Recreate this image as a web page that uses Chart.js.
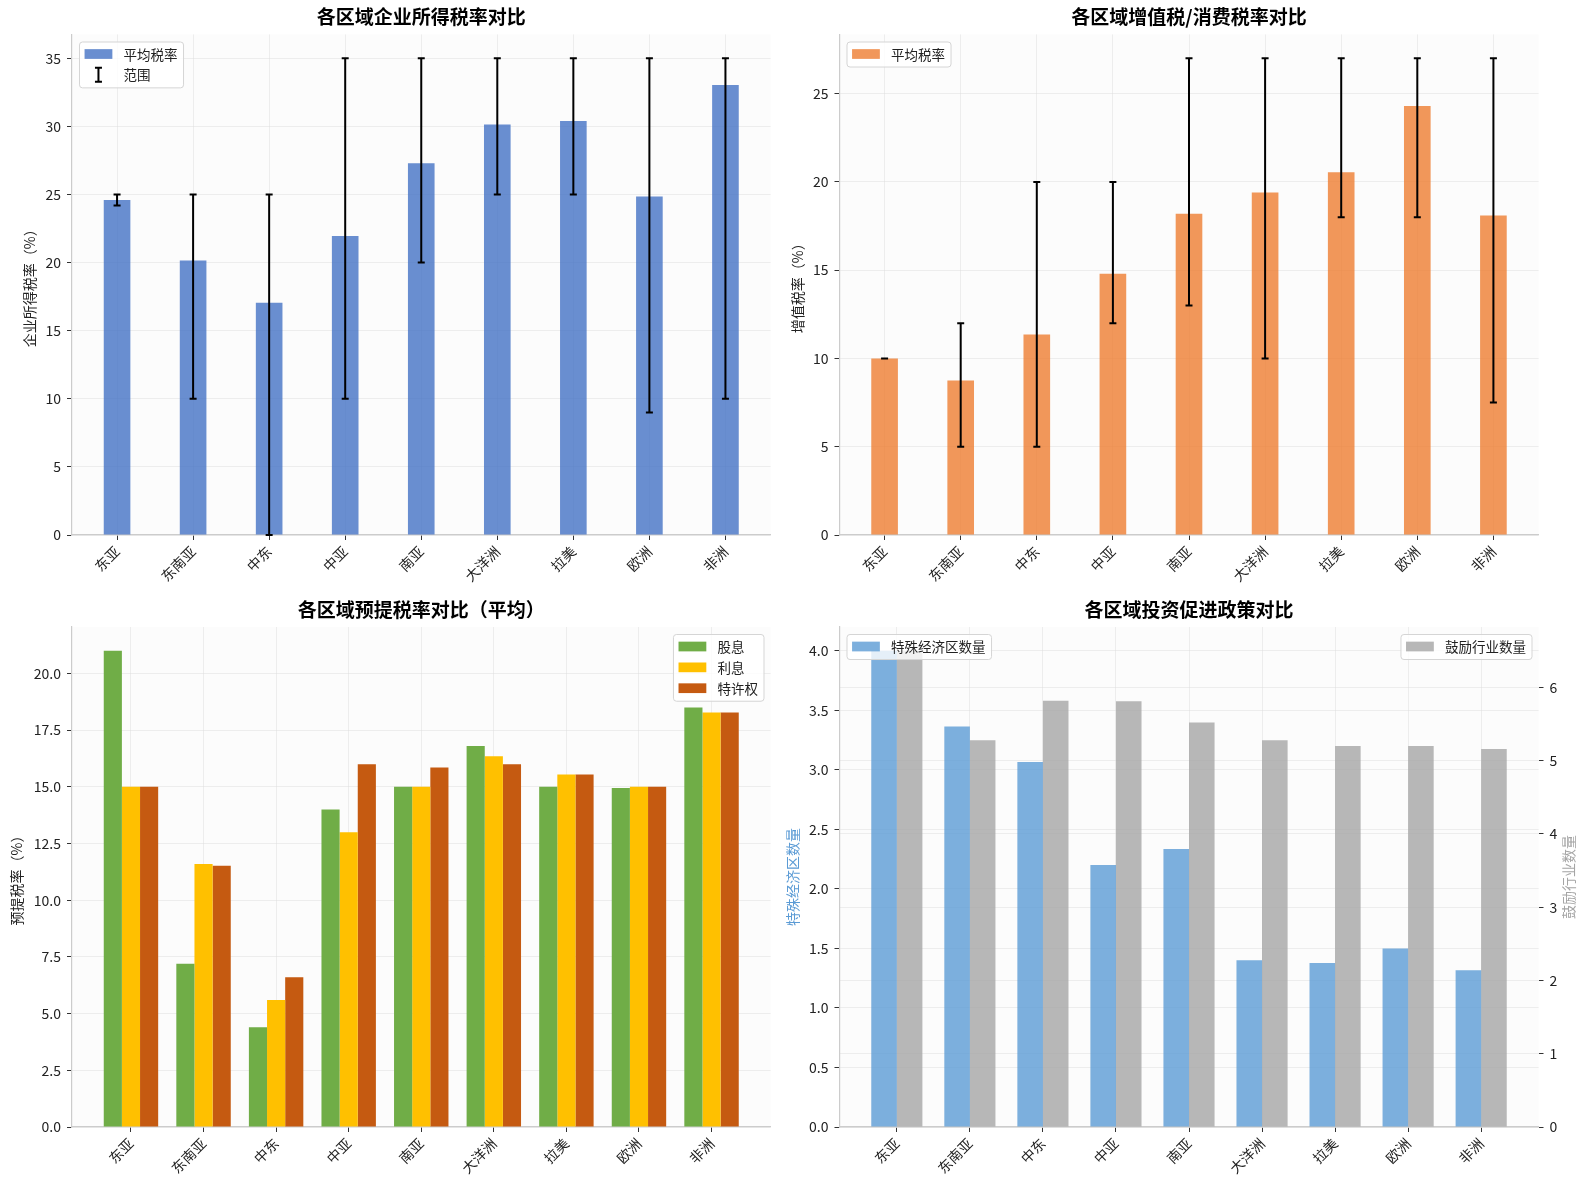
<!DOCTYPE html>
<html>
<head>
<meta charset="utf-8">
<script src="https://cdn.jsdelivr.net/npm/chart.js@4.4.1/dist/chart.umd.min.js"></script>
<style>
body{margin:0;background:#fff;width:1587px;height:1186px;position:relative;overflow:hidden;}
canvas{position:absolute;}
</style>
</head>
<body>
<canvas id="g1" width="780" height="593" style="left:0;top:0;"></canvas>
<canvas id="g2" width="807" height="593" style="left:780px;top:0;"></canvas>
<canvas id="g3" width="780" height="593" style="left:0;top:593px;"></canvas>
<canvas id="g4" width="807" height="593" style="left:780px;top:593px;"></canvas>
<script>
// regiones
const regiones = ['东亚','东南亚','中东','中亚','南亚','大洋洲','拉美','欧洲','非洲'];

//企业所得税
const citMedia = [24.6, 20.15, 17.05, 21.95, 27.3, 30.15, 30.4, 24.85, 33.05];
const citMin   = [24.2, 10, 0, 10, 20, 25, 25, 9, 10];
const citMax   = [25, 25, 25, 35, 35, 35, 35, 35, 35];

// 增值税
const ivaMedia = [10, 8.75, 11.35, 14.8, 18.2, 19.4, 20.55, 24.3, 18.1];
const ivaMin   = [10, 5, 5, 12, 13, 10, 18, 18, 7.5];
const ivaMax   = [10, 12, 20, 20, 27, 27, 27, 27, 27];

// 预提税
const dividendos = [21.0, 7.2, 4.4, 14.0, 15.0, 16.8, 15.0, 14.95, 18.5];
const intereses  = [15.0, 11.6, 5.6, 13.0, 15.0, 16.35, 15.55, 15.0, 18.28];
const regalias   = [15.0, 11.52, 6.6, 16.0, 15.85, 16.0, 15.55, 15.0, 18.28];

// 投资促进
const zonasEspeciales = [4.0, 3.365, 3.065, 2.2, 2.335, 1.4, 1.377, 1.5, 1.316];
const industrias      = [6.5, 5.28, 5.82, 5.81, 5.52, 5.28, 5.2, 5.2, 5.16];

const fuente = '"Noto Sans CJK SC", "DejaVu Sans", sans-serif';
Chart.defaults.font.family = fuente;
Chart.defaults.font.size = 14;
Chart.defaults.color = '#222';
Chart.defaults.animation = false;

const colorGrid = 'rgba(222,222,222,0.5)';

function puntos(arr){
    return arr.map((v,i)=>({x:i, y:v}));
}

// titulo, fondo, leyenda y barras de error
const pluginDibujo = {
    id:'dibujo',
    beforeDraw(chart){
        const a = chart.chartArea, ctx = chart.ctx;
        ctx.save();
        ctx.fillStyle = '#fcfcfc';
        ctx.fillRect(a.left, a.top, a.right-a.left, a.bottom-a.top);
        ctx.restore();
    },
    afterDraw(chart){
        const a = chart.chartArea, ctx = chart.ctx;
        const op = chart.options.plugins.dibujo || {};
        ctx.save();
        // barras de error
        if(op.rango){
            const meta = chart.getDatasetMeta(0);
            const ys = chart.scales.y;
            ctx.strokeStyle = '#000';
            ctx.lineWidth = 2;
            meta.data.forEach((el,i)=>{
                const x = el.x;
                const y1 = ys.getPixelForValue(op.rango.min[i]);
                const y2 = ys.getPixelForValue(op.rango.max[i]);
                ctx.beginPath();
                ctx.moveTo(x, y1); ctx.lineTo(x, y2);
                ctx.moveTo(x-3.5, y1); ctx.lineTo(x+3.5, y1);
                ctx.moveTo(x-3.5, y2); ctx.lineTo(x+3.5, y2);
                ctx.stroke();
            });
        }
        // titulo
        if(op.titulo){
            ctx.fillStyle = '#000';
            ctx.font = 'bold 19px ' + fuente;
            ctx.textAlign = 'center';
            ctx.textBaseline = 'middle';
            ctx.fillText(op.titulo, (a.left+a.right)/2, a.top-17.5);
        }
        // titulo del eje derecho
        if(op.tituloDerecho){
            ctx.save();
            ctx.translate(op.tituloDerecho.x, (a.top+a.bottom)/2);
            ctx.rotate(-Math.PI/2);
            ctx.fillStyle = op.tituloDerecho.color;
            ctx.font = '14px ' + fuente;
            ctx.textAlign = 'center';
            ctx.textBaseline = 'middle';
            ctx.fillText(op.tituloDerecho.text, 0, 0);
            ctx.restore();
        }
        // leyendas
        (op.leyendas || []).forEach(ley=>{
            const fs = 13.9, pad = 0.4*fs, sp = 0.5*fs, hw = 2*fs, gap = 0.8*fs;
            ctx.font = '13.5px ' + fuente;
            let tw = 0;
            ley.items.forEach(it=>{ tw = Math.max(tw, ctx.measureText(it.label).width); });
            const w = pad + hw + gap + tw + pad;
            const n = ley.items.length;
            const h = 2*pad + n*fs + (n-1)*sp;
            const x = ley.lado === 'right' ? a.right - 7 - w : a.left + 7;
            const y = a.top + 7;
            ctx.beginPath();
            ctx.roundRect(x+0.5, y+0.5, w, h, 3);
            ctx.fillStyle = 'rgba(255,255,255,0.8)';
            ctx.fill();
            ctx.strokeStyle = '#d5d5d5';
            ctx.lineWidth = 1;
            ctx.stroke();
            ley.items.forEach((it,i)=>{
                const cy = y + pad + i*(fs+sp) + fs/2;
                if(it.tipo === 'error'){
                    const cx = x + pad + hw/2;
                    ctx.strokeStyle = '#000';
                    ctx.lineWidth = 2;
                    ctx.beginPath();
                    ctx.moveTo(cx, cy-7); ctx.lineTo(cx, cy+7);
                    ctx.moveTo(cx-3.5, cy-7); ctx.lineTo(cx+3.5, cy-7);
                    ctx.moveTo(cx-3.5, cy+7); ctx.lineTo(cx+3.5, cy+7);
                    ctx.stroke();
                } else {
                    ctx.fillStyle = it.color;
                    ctx.fillRect(x+pad, cy-0.35*fs, hw, 0.7*fs);
                }
                ctx.fillStyle = '#222';
                ctx.textAlign = 'left';
                ctx.textBaseline = 'middle';
                ctx.fillText(it.label, x+pad+hw+gap, cy+0.5);
            });
        });
        ctx.restore();
    }
};

function ejeX(margen, alto){
    return {
        type:'linear',
        min:-margen, max:8+margen,
        offset:false,
        z:1,
        afterBuildTicks:(s)=>{ s.ticks = regiones.map((_,i)=>({value:i})); },
        afterFit:(s)=>{ s.height = alto; },
        ticks:{
            autoSkip:false, minRotation:45, maxRotation:45, padding:3,
            callback:(v)=>regiones[v],
            font:{size:14}, color:'#222'
        },
        grid:{offset:false, color:colorGrid, tickColor:'#333', tickLength:5, lineWidth:1},
        border:{color:'#cccccc', width:1.2}
    };
}

function ejeY(max, paso, ancho, titulo, tpad, dec, extra){
    const eje = {
        type:'linear', min:0, max:max,
        z:1,
        afterFit:(s)=>{ s.width = ancho; },
        ticks:{
            stepSize:paso, includeBounds:false, padding:6, color:'#222',
            callback:(v)=> dec ? v.toFixed(dec) : String(v)
        },
        grid:{color:colorGrid, tickColor:'#333', tickLength:5, lineWidth:1},
        border:{color:'#cccccc', width:1.2},
        title:{display:true, text:titulo, font:{size:14}, color:'#222', padding:{top:tpad, bottom:0}}
    };
    return Object.assign(eje, extra || {});
}

// grafico 1
new Chart(document.getElementById('g1').getContext('2d'),{
    type:'bar',
    data:{datasets:[{
        label:'平均税率', data:puntos(citMedia),
        backgroundColor:'rgba(68,114,196,0.8)', borderWidth:0,
        categoryPercentage:0.35, barPercentage:1
    }]},
    options:{
        responsive:false,
        layout:{padding:{top:34.5, right:9.5, left:0, bottom:0}},
        plugins:{
            legend:{display:false}, tooltip:{enabled:false},
            dibujo:{
                titulo:'各区域企业所得税率对比',
                rango:{min:citMin, max:citMax},
                leyendas:[{lado:'left', items:[
                    {label:'平均税率', color:'rgba(68,114,196,0.8)'},
                    {label:'范围', tipo:'error'}
                ]}]
            }
        },
        scales:{
            x:ejeX(0.5925, 58),
            y:ejeY(36.75, 5, 72, '企业所得税率（%）', 21.6, 0)
        }
    },
    plugins:[pluginDibujo]
});

// grafico 2
new Chart(document.getElementById('g2').getContext('2d'),{
    type:'bar',
    data:{datasets:[{
        label:'平均税率', data:puntos(ivaMedia),
        backgroundColor:'rgba(237,125,49,0.8)', borderWidth:0,
        categoryPercentage:0.35, barPercentage:1
    }]},
    options:{
        responsive:false,
        layout:{padding:{top:34.5, right:48.5, left:0, bottom:0}},
        plugins:{
            legend:{display:false}, tooltip:{enabled:false},
            dibujo:{
                titulo:'各区域增值税/消费税率对比',
                rango:{min:ivaMin, max:ivaMax},
                leyendas:[{lado:'left', items:[
                    {label:'平均税率', color:'rgba(237,125,49,0.8)'}
                ]}]
            }
        },
        scales:{
            x:ejeX(0.5925, 58),
            y:ejeY(28.35, 5, 59.5, '增值税率（%）', 9.2, 0)
        }
    },
    plugins:[pluginDibujo]
});

// grafico 3
new Chart(document.getElementById('g3').getContext('2d'),{
    type:'bar',
    data:{datasets:[
        {label:'股息', data:puntos(dividendos), backgroundColor:'#70AD47', borderWidth:0, categoryPercentage:0.75, barPercentage:1},
        {label:'利息', data:puntos(intereses), backgroundColor:'#FFC000', borderWidth:0, categoryPercentage:0.75, barPercentage:1},
        {label:'特许权', data:puntos(regalias), backgroundColor:'#C55A11', borderWidth:0, categoryPercentage:0.75, barPercentage:1}
    ]},
    options:{
        responsive:false,
        layout:{padding:{top:34, right:9.5, left:0, bottom:0}},
        plugins:{
            legend:{display:false}, tooltip:{enabled:false},
            dibujo:{
                titulo:'各区域预提税率对比（平均）',
                leyendas:[{lado:'right', items:[
                    {label:'股息', color:'#70AD47'},
                    {label:'利息', color:'#FFC000'},
                    {label:'特许权', color:'#C55A11'}
                ]}]
            }
        },
        scales:{
            x:ejeX(0.8125, 59),
            y:ejeY(22.05, 2.5, 72, '预提税率（%）', 8.1, 1)
        }
    },
    plugins:[pluginDibujo]
});

// grafico 4
const ejeIzq = ejeY(4.2, 0.5, 59.5, '特殊经济区数量', 4.1, 1);
ejeIzq.title.color = '#5B9BD5';
const ejeDer = ejeY(6.825, 1, 48.5, '鼓励行业数量', 9.6, 0, {position:'right'});
ejeDer.title = {display:false};
ejeDer.border = {display:false};
new Chart(document.getElementById('g4').getContext('2d'),{
    type:'bar',
    data:{datasets:[
        {label:'特殊经济区数量', data:puntos(zonasEspeciales), yAxisID:'y', backgroundColor:'rgba(91,155,213,0.8)', borderWidth:0, categoryPercentage:0.7, barPercentage:1},
        {label:'鼓励行业数量', data:puntos(industrias), yAxisID:'y1', backgroundColor:'rgba(165,165,165,0.8)', borderWidth:0, categoryPercentage:0.7, barPercentage:1}
    ]},
    options:{
        responsive:false,
        layout:{padding:{top:34, right:0, left:0, bottom:0}},
        plugins:{
            legend:{display:false}, tooltip:{enabled:false},
            dibujo:{
                titulo:'各区域投资促进政策对比',
                tituloDerecho:{text:'鼓励行业数量', color:'#A5A5A5', x:789},
                leyendas:[
                    {lado:'left', items:[{label:'特殊经济区数量', color:'rgba(91,155,213,0.8)'}]},
                    {lado:'right', items:[{label:'鼓励行业数量', color:'rgba(165,165,165,0.8)'}]}
                ]
            }
        },
        scales:{
            x:ejeX(0.785, 59),
            y:ejeIzq,
            y1:ejeDer
        }
    },
    plugins:[pluginDibujo]
});
</script>
</body>
</html>
